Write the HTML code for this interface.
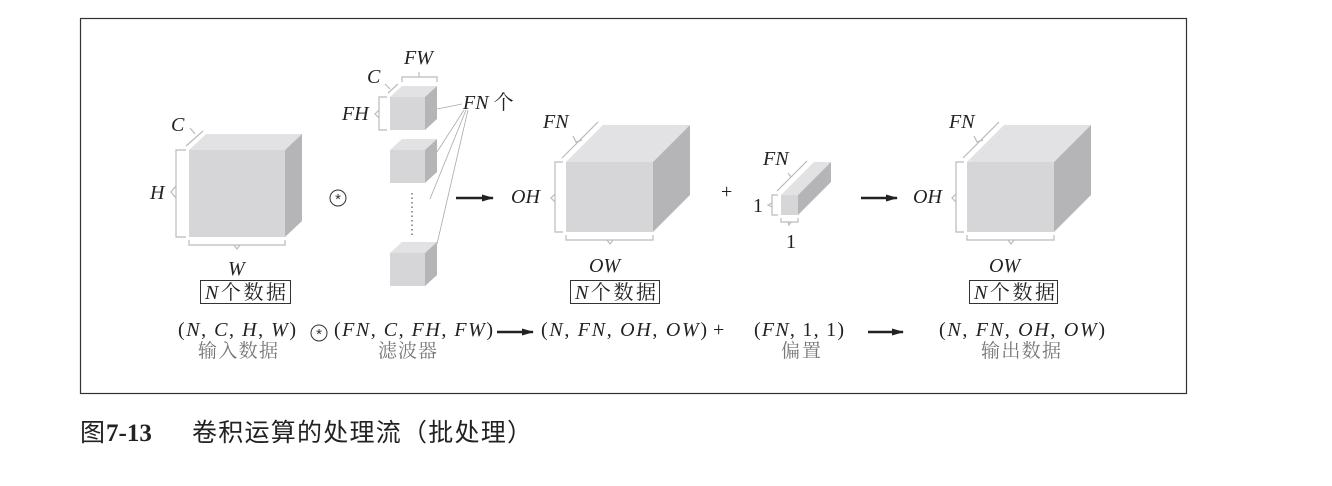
<!DOCTYPE html>
<html><head><meta charset="utf-8"><style>
body{margin:0;background:#fff;width:1332px;height:486px;overflow:hidden}
svg{display:block}
.m{font-family:"Liberation Serif",serif;font-style:italic;font-size:20px;fill:#222}
.r{font-family:"Liberation Serif",serif;font-size:20px;fill:#222}
.f{font-family:"Liberation Serif","Noto Serif CJK SC",serif;font-size:20px;fill:#222}
.g{font-family:"Noto Serif CJK SC","Noto Sans CJK SC",serif;font-size:19px;fill:#777}
.br{fill:none;stroke:#bbb;stroke-width:1.2}
</style></head><body>
<svg width="1332" height="486" viewBox="0 0 1332 486">
<rect x="80.5" y="18.5" width="1106" height="375" fill="#fff" stroke="#333" stroke-width="1.2"/>
<defs>
<marker id="a" markerUnits="userSpaceOnUse" markerWidth="12" markerHeight="10" refX="11" refY="5" orient="auto"><path d="M0,1.5 L12,5 L0,8.5 z" fill="#222"/></marker>
<g id="ot"><circle cx="0" cy="0" r="8" fill="none" stroke="#333" stroke-width="1"/><text x="0" y="6" text-anchor="middle" font-family="Liberation Sans,sans-serif" font-size="15" fill="#333">*</text></g>
</defs>
<!-- input cube -->
<polygon points="189,150 206,134 302,134 285,150" fill="#e2e2e4"/>
<polygon points="285,150 302,134 302,221 285,237" fill="#b5b5b7"/>
<rect x="189" y="150" width="96" height="87" fill="#d6d6d8"/>
<path class="br" d="M186,150 h-10 v87 h10 M176,186 l-5,6 l5,6"/>
<path class="br" d="M189,240 v5 h96 v-5 M234,245 l3,4 l3,-4"/>
<path class="br" d="M186,146 l17,-15 M190,128 l5,6"/>
<text class="m" x="171" y="131">C</text>
<text class="m" x="150" y="199">H</text>
<text class="m" x="228" y="275">W</text>
<rect x="200.5" y="280.5" width="90" height="23" fill="#fff" stroke="#333"/>
<text class="f" x="205" y="299" textLength="81"><tspan font-style="italic">N</tspan>个数据</text>
<use href="#ot" x="338" y="198"/>
<!-- filters -->
<g id="fc">
<polygon points="390,97 402,86 437,86 425,97" fill="#e2e2e4"/>
<polygon points="425,97 437,86 437,119 425,130" fill="#b5b5b7"/>
<rect x="390" y="97" width="35" height="33" fill="#d6d6d8"/>
</g>
<use href="#fc" y="53"/>
<use href="#fc" y="156"/>
<line x1="412" y1="193" x2="412" y2="236" stroke="#999" stroke-width="2" stroke-dasharray="1.5,3"/>
<path class="br" d="M387,97 h-8 v33 h8 M379,110 l-4,4 l4,4"/>
<path class="br" d="M402,82 v-5 h35 v5 M419,77 l0,-5"/>
<path class="br" d="M388,93 l10,-9 M385,84 l5,5"/>
<text class="m" x="367" y="83">C</text>
<text class="m" x="404" y="64">FW</text>
<text class="m" x="342" y="120">FH</text>
<text class="f" x="463" y="109"><tspan font-style="italic">FN</tspan> 个</text>
<g stroke="#aaa" stroke-width="0.8">
<line x1="437" y1="109" x2="462" y2="104"/>
<line x1="437" y1="152" x2="464" y2="110"/>
<line x1="430" y1="199" x2="466" y2="110"/>
<line x1="437" y1="244" x2="468" y2="110"/>
</g>
<line x1="456" y1="198" x2="493" y2="198" stroke="#222" stroke-width="2.5" marker-end="url(#a)"/>
<!-- output cube 1 -->
<g id="oc">
<polygon points="566,162 603,125 690,125 653,162" fill="#e2e2e4"/>
<polygon points="653,162 690,125 690,195 653,232" fill="#b5b5b7"/>
<rect x="566" y="162" width="87" height="70" fill="#d6d6d8"/>
<path class="br" d="M563,162 h-8 v70 h8 M555,194 l-4,4 l4,4"/>
<path class="br" d="M566,235 v5 h87 v-5 M607,240 l3,4 l3,-4"/>
<path class="br" d="M562,158 l36,-36 M573,136 l3,6 l6,-2"/>
</g>
<text class="m" x="543" y="128">FN</text>
<text class="m" x="511" y="203">OH</text>
<text class="m" x="589" y="272">OW</text>
<rect x="570.5" y="280.5" width="89" height="23" fill="#fff" stroke="#333"/>
<text class="f" x="575" y="299" textLength="81"><tspan font-style="italic">N</tspan>个数据</text>
<text class="r" x="721" y="198" fill="#888">+</text>
<!-- bias -->
<polygon points="781,195 814,162 831,162 798,195" fill="#e2e2e4"/>
<polygon points="798,195 831,162 831,182 798,215" fill="#b5b5b7"/>
<rect x="781" y="195" width="17" height="20" fill="#d6d6d8"/>
<path class="br" d="M778,195 h-6 v20 h6 M772,203 l-4,2 l4,2"/>
<path class="br" d="M781,218 v4 h17 v-4 M788,222 l1,3 l2,-3"/>
<path class="br" d="M777,191 l30,-30 M788,173 l3,4"/>
<text class="m" x="763" y="165">FN</text>
<text class="r" x="753" y="212">1</text>
<text class="r" x="786" y="248">1</text>
<line x1="861" y1="198" x2="897" y2="198" stroke="#222" stroke-width="2.5" marker-end="url(#a)"/>
<use href="#oc" x="401"/>
<text class="m" x="949" y="128">FN</text>
<text class="m" x="913" y="203">OH</text>
<text class="m" x="989" y="272">OW</text>
<rect x="969.5" y="280.5" width="88" height="23" fill="#fff" stroke="#333"/>
<text class="f" x="974" y="299" textLength="81"><tspan font-style="italic">N</tspan>个数据</text>
<!-- formulas -->
<text class="r" x="178" y="336" textLength="118">(<tspan font-style="italic">N</tspan>, <tspan font-style="italic">C</tspan>, <tspan font-style="italic">H</tspan>, <tspan font-style="italic">W</tspan>)</text>
<text class="g" x="198" y="357" textLength="80">输入数据</text>
<use href="#ot" x="319" y="333"/>
<text class="r" x="334" y="336" textLength="159">(<tspan font-style="italic">FN</tspan>, <tspan font-style="italic">C</tspan>, <tspan font-style="italic">FH</tspan>, <tspan font-style="italic">FW</tspan>)</text>
<text class="g" x="378" y="357" textLength="59">滤波器</text>
<line x1="497" y1="332" x2="533" y2="332" stroke="#222" stroke-width="2.5" marker-end="url(#a)"/>
<text class="r" x="541" y="336" textLength="166">(<tspan font-style="italic">N</tspan>, <tspan font-style="italic">FN</tspan>, <tspan font-style="italic">OH</tspan>, <tspan font-style="italic">OW</tspan>)</text>
<text class="r" x="713" y="336" fill="#555">+</text>
<text class="r" x="754" y="336" textLength="90">(<tspan font-style="italic">FN</tspan>, 1, 1)</text>
<text class="g" x="781" y="357" textLength="40">偏置</text>
<line x1="868" y1="332" x2="903" y2="332" stroke="#222" stroke-width="2.5" marker-end="url(#a)"/>
<text class="r" x="939" y="336" textLength="166">(<tspan font-style="italic">N</tspan>, <tspan font-style="italic">FN</tspan>, <tspan font-style="italic">OH</tspan>, <tspan font-style="italic">OW</tspan>)</text>
<text class="g" x="981" y="357" textLength="80">输出数据</text>
<!-- caption -->
<text x="80" y="441" font-family="'Noto Sans CJK SC',sans-serif" font-size="25" fill="#222">图</text>
<text x="106" y="441" font-family="'Liberation Serif',serif" font-weight="bold" font-size="25" fill="#222">7-13</text>
<text x="192" y="441" font-family="'Noto Sans CJK SC',sans-serif" font-size="25" fill="#222" textLength="340">卷积运算的处理流（批处理）</text>
</svg>
</body></html>
